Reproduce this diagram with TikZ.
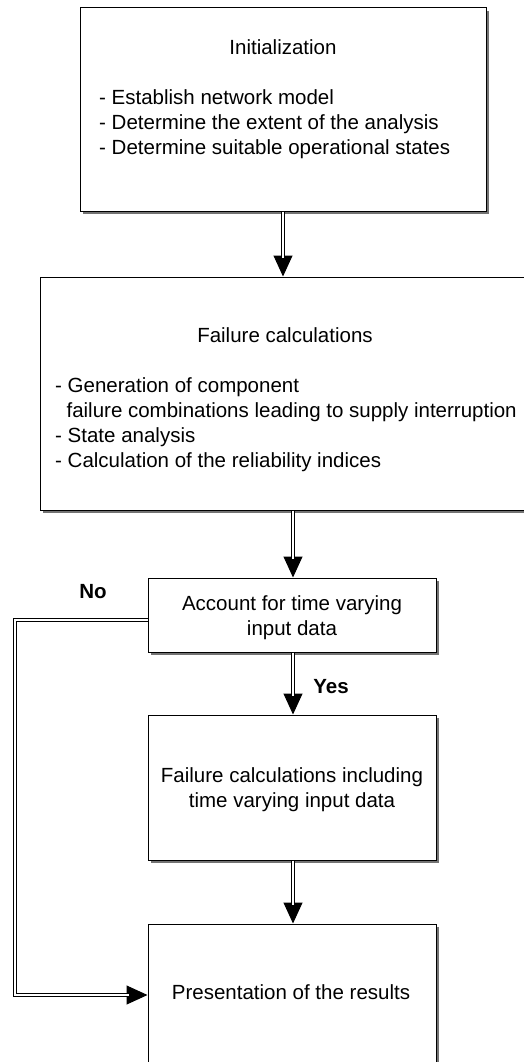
\documentclass[tikz,border=0pt]{standalone}
\usepackage{fontspec}
\setmainfont{Liberation Sans}
\usetikzlibrary{positioning,arrows.meta,shadows}

\begin{document}
\begin{tikzpicture}[x=1pt,y=-1pt,
  box/.style={draw, line width=1pt, fill=white, inner sep=0pt,
    drop shadow={shadow xshift=3pt, shadow yshift=-3pt, fill=black!55, opacity=1}},
  txt/.style={font=\fontsize{20.5}{25}\selectfont, inner sep=0pt},
  lbl/.style={font=\fontsize{20.5}{25}\selectfont\bfseries, inner sep=0pt},
  dline/.style={double, double distance=2.6pt, line width=1pt, shorten >=19pt},
  dtip/.style={line width=1pt, -{Triangle[length=21pt,width=19pt]}}]
  \useasboundingbox (0,0) rectangle (524,1062);

  % boxes
  \node[box, minimum width=406, minimum height=203] (init) at (283,109.5) {};
  \node[box, minimum width=490, minimum height=233] (fail) at (285,393.5) {};
  \node[box, minimum width=288, minimum height=74]  (acct) at (292,615) {};
  \node[box, minimum width=288, minimum height=145] (failtv) at (292,787.5) {};
  \node[box, minimum width=288, minimum height=180] (pres) at (292,1014) {};

  % texts
  \node[txt] (initT) at (283,47) {Initialization};
  \node[txt, align=left, anchor=north west] (initL) at (99,89)
    {- Establish network model\\
     - Determine the extent of the analysis\\
     - Determine suitable operational states};
  \node[txt] (failT) at (285,335) {Failure calculations};
  \node[txt, align=left, anchor=north west] (failL) at (55,377)
    {- Generation of component\\
     \ \ failure combinations leading to supply interruption\\
     - State analysis\\
     - Calculation of the reliability indices};
  \node[txt, align=center] (acctT) at (292,618) {Account for time varying\\input data};
  \node[txt, align=center] (failtvT) at (292,790) {Failure calculations including\\time varying input data};
  \node[txt] (presT) at (291,992) {Presentation of the results};

  \node[lbl] (yes) at (331,687) {Yes};
  \node[lbl] (no) at (93,592) {No};

  % connectors
  \coordinate (c1) at (15,620);
  \coordinate (c2) at (15,995);
  \draw[dtip] (init.south -| 283,0) -- (fail.north -| 283,0);
  \draw[dline] (init.south -| 283,0) -- (fail.north -| 283,0);
  \draw[dtip] (fail.south -| 293,0) -- (acct.north -| 293,0);
  \draw[dline] (fail.south -| 293,0) -- (acct.north -| 293,0);
  \draw[dtip] (acct.south -| 293,0) -- (failtv.north -| 293,0);
  \draw[dline] (acct.south -| 293,0) -- (failtv.north -| 293,0);
  \draw[dtip] (failtv.south -| 293,0) -- (pres.north -| 293,0);
  \draw[dline] (failtv.south -| 293,0) -- (pres.north -| 293,0);
  \draw[dtip] (acct.west |- c1) -- (c1) -- (c2) -- (pres.west |- c2);
  \draw[dline] (acct.west |- c1) -- (c1) -- (c2) -- (pres.west |- c2);
\end{tikzpicture}
\end{document}
